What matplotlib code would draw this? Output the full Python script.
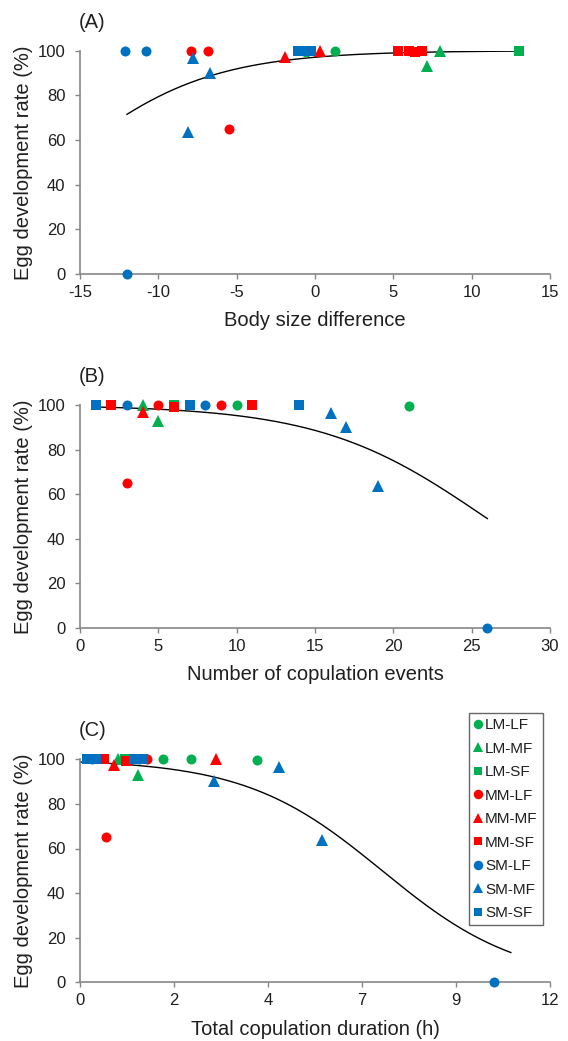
import numpy as np
import matplotlib
matplotlib.use("Agg")
import matplotlib.pyplot as plt
from matplotlib.lines import Line2D

plt.rcParams['font.family'] = ['Liberation Sans', 'DejaVu Sans']
plt.rcParams['axes.unicode_minus'] = False

# ---------------- data ----------------
groups = ['LM-LF', 'LM-MF', 'LM-SF', 'MM-LF', 'MM-MF', 'MM-SF', 'SM-LF', 'SM-MF', 'SM-SF']
group_colors = ['#00B050', '#00B050', '#00B050', '#FF0000', '#FF0000', '#FF0000',
                '#0070C0', '#0070C0', '#0070C0']
group_markers = ['o', '^', 's', 'o', '^', 's', 'o', '^', 's']

# Panel A: body size difference
a_x = [-0.6, 1.3, 7.15, 8.0, 13.0, -7.9, -6.8, -5.5, -1.9, 0.3, 5.3, 6.0, 6.4, 6.8,
       -12.1, -10.8, -12.0, -7.8, -6.7, -8.1, -1.1, -0.7, -0.25]
a_y = [99.5, 100, 93.1, 100, 100, 100, 100, 65.1, 97.3, 100, 100, 100, 99.3, 100,
       100, 100, 0, 96.6, 90.1, 63.6, 100, 100, 100]
a_g = ['LM-LF', 'LM-LF', 'LM-MF', 'LM-MF', 'LM-SF', 'MM-LF', 'MM-LF', 'MM-LF', 'MM-MF', 'MM-MF',
       'MM-SF', 'MM-SF', 'MM-SF', 'MM-SF', 'SM-LF', 'SM-LF', 'SM-LF', 'SM-MF', 'SM-MF', 'SM-MF',
       'SM-SF', 'SM-SF', 'SM-SF']
a_fit = (3.5, 0.215)      # logistic intercept, slope
a_fit_range = (-12.0, 13.0)

# Panel B: number of copulation events
b_x = [10, 21, 4, 5, 6, 3, 5, 9, 4, 2, 6, 11, 3, 8, 26, 16, 17, 19, 1, 7, 14]
b_y = [100, 99.6, 100, 93.0, 100, 65.1, 100, 100, 97.0, 100, 99.3, 100, 100, 100, 0,
       96.3, 90.3, 63.6, 100, 100, 100]
b_g = ['LM-LF', 'LM-LF', 'LM-MF', 'LM-MF', 'LM-SF', 'MM-LF', 'MM-LF', 'MM-LF', 'MM-MF',
       'MM-SF', 'MM-SF', 'MM-SF', 'SM-LF', 'SM-LF', 'SM-LF', 'SM-MF', 'SM-MF', 'SM-MF',
       'SM-SF', 'SM-SF', 'SM-SF']
b_fit = (4.9, -0.19)
b_fit_range = (1.0, 26.0)

# Panel C: total copulation duration (h)
c_x = [2.11, 2.84, 4.51, 0.97, 1.47, 1.15, 0.67, 1.70, 0.88, 3.47, 0.62, 1.17,
       0.3, 1.5, 10.58, 3.43, 5.09, 6.19, 0.18, 0.42, 1.38, 1.6]
c_y = [100, 100, 99.7, 100, 93.0, 100, 65.1, 100, 97.3, 100, 100, 99.3,
       100, 100, 0, 90.4, 96.4, 63.7, 100, 100, 100, 100]
c_g = ['LM-LF', 'LM-LF', 'LM-LF', 'LM-MF', 'LM-MF', 'LM-SF', 'MM-LF', 'MM-LF', 'MM-MF', 'MM-MF',
       'MM-SF', 'MM-SF', 'SM-LF', 'SM-LF', 'SM-LF', 'SM-MF', 'SM-MF', 'SM-MF',
       'SM-SF', 'SM-SF', 'SM-SF', 'SM-SF']
c_fit = (4.4, -0.57)
c_fit_range = (0.0, 11.0)

c_tick_pos = [0, 2.4, 4.8, 7.2, 9.6, 12]
c_tick_labels = ['0', '2', '4', '7', '9', '12']

y_ticks = [0, 20, 40, 60, 80, 100]
y_label = 'Egg development rate (%)'

# ---------------- layout ----------------
W, H = 568, 1041
fig = plt.figure(figsize=(W / 100, H / 100), dpi=100)

AX_L, AX_R = 80, 550
panels = [
    dict(x=a_x, y=a_y, g=a_g, fit=a_fit, fr=a_fit_range, top=50.7, bot=274,
         xlim=(-15, 15), xticks=list(range(-15, 16, 5)), xtl=None,
         xlabel='Body size difference', tag='(A)', tag_y=22),
    dict(x=b_x, y=b_y, g=b_g, fit=b_fit, fr=b_fit_range, top=405, bot=627.7,
         xlim=(0, 30), xticks=list(range(0, 31, 5)), xtl=None,
         xlabel='Number of copulation events', tag='(B)', tag_y=377),
    dict(x=c_x, y=c_y, g=c_g, fit=c_fit, fr=c_fit_range, top=759.3, bot=982.3,
         xlim=(0, 12), xticks=c_tick_pos, xtl=c_tick_labels,
         xlabel='Total copulation duration (h)', tag='(C)', tag_y=730),
]

axis_color = '#868686'
text_color = '#1f1f1f'
msizes = {'o': 7.2, '^': 8.0, 's': 6.8}

axes = []
for p in panels:
    ax = fig.add_axes([AX_L / W, 1 - p['bot'] / H, (AX_R - AX_L) / W, (p['bot'] - p['top']) / H])
    axes.append(ax)
    ax.set_xlim(*p['xlim'])
    ax.set_ylim(0, 100)
    for s in ['top', 'right']:
        ax.spines[s].set_visible(False)
    for s in ['left', 'bottom']:
        ax.spines[s].set_color(axis_color)
        ax.spines[s].set_linewidth(1.2)
    ax.set_xticks(p['xticks'])
    if p['xtl'] is not None:
        ax.set_xticklabels(p['xtl'])
    ax.set_yticks(y_ticks)
    ax.tick_params(axis='both', direction='out', length=3.5, width=1.0, color=axis_color,
                   labelsize=12, labelcolor=text_color)
    ax.tick_params(axis='x', pad=4.5)
    ax.tick_params(axis='y', pad=7.0)
    ax.patch.set_alpha(0)

    # fitted curve
    xa, xb = p['fr']
    xs = np.linspace(xa, xb, 200)
    a0, b0 = p['fit']
    ax.plot(xs, 100 / (1 + np.exp(-(a0 + b0 * xs))), color='black', lw=1.0, zorder=2)

    # points by group
    xarr = np.array(p['x'], dtype=float)
    yarr = np.array(p['y'], dtype=float)
    garr = np.array(p['g'])
    for gi, (gname, col, mk) in enumerate(zip(groups, group_colors, group_markers)):
        m = garr == gname
        if m.any():
            ax.plot(xarr[m], yarr[m], ls='none', marker=mk, ms=msizes[mk], color=col,
                    mew=0, clip_on=False, zorder=3 + gi)

    ax_h = p['bot'] - p['top']
    ax.set_xlabel(p['xlabel'], fontsize=14.5, color=text_color, va='center')
    ax.xaxis.set_label_coords(0.5, -47 / ax_h)
    ax.set_ylabel(y_label, fontsize=14.5, color=text_color, va='center')
    ax.yaxis.set_label_coords((24 - AX_L) / (AX_R - AX_L), 0.5)

    fig.text(79 / W, 1 - p['tag_y'] / H, p['tag'], fontsize=14.5, color=text_color,
             ha='left', va='center')

# legend in panel C
handles = [Line2D([], [], ls='none', marker=mk, ms=msizes[mk] * 0.95, color=col, mew=0)
           for col, mk in zip(group_colors, group_markers)]
leg = fig.legend(handles, groups, loc='upper right',
                 bbox_to_anchor=(543 / W, 1 - 713 / H), bbox_transform=fig.transFigure,
                 fontsize=11, frameon=True, fancybox=False, handlelength=0.5,
                 handletextpad=0.2, labelspacing=0.62, borderpad=0.35,
                 borderaxespad=0, labelcolor=text_color)
leg.get_frame().set_edgecolor('#404040')
leg.get_frame().set_linewidth(1.0)

fig.savefig('out.png', dpi=100)
